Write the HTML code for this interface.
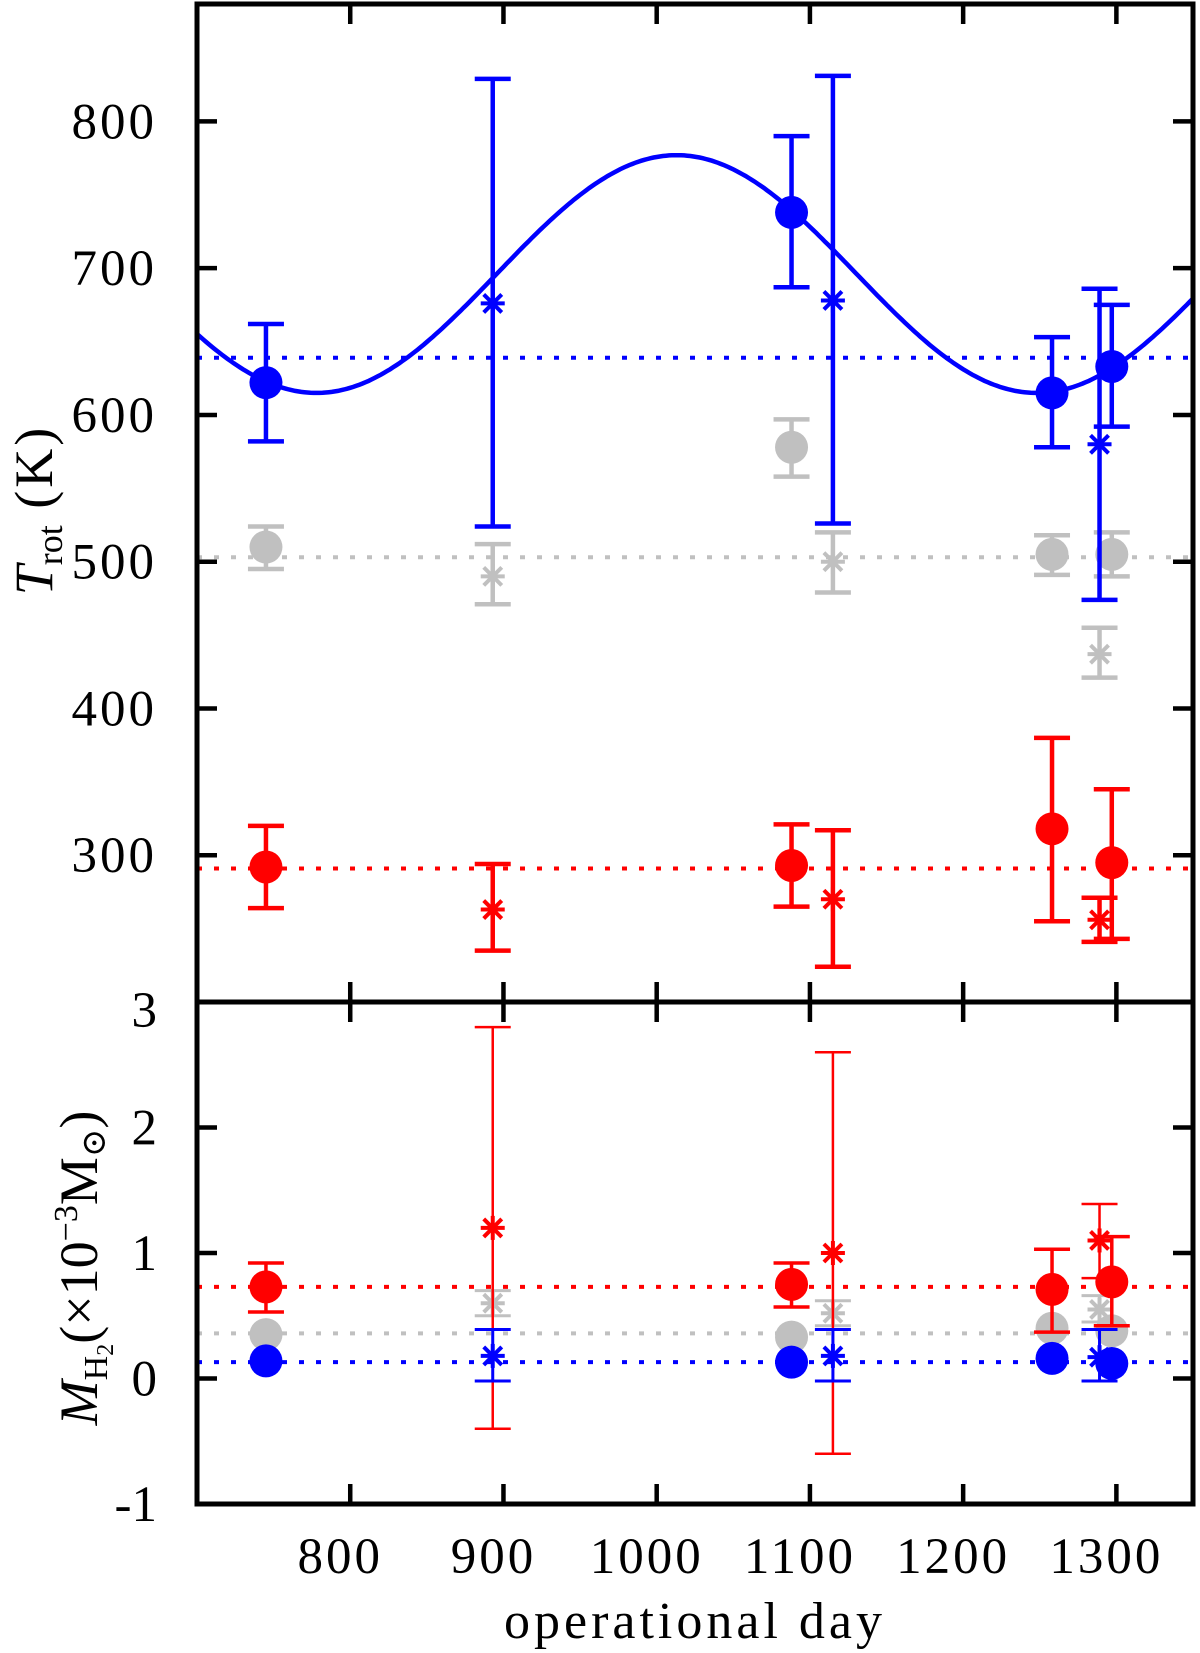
<!DOCTYPE html>
<html><head><meta charset="utf-8"><style>
html,body{margin:0;padding:0;background:#fff}
svg{display:block}
text{font-family:"Liberation Serif","DejaVu Serif",serif;fill:#000}
</style></head><body>
<svg id="chart" width="1200" height="1653" viewBox="0 0 1200 1653" xmlns="http://www.w3.org/2000/svg">
<g id="marks"></g>
<g id="axes"></g>
</svg>
<script>
// ---- data ----
const days = [745, 893, 1088, 1115, 1258, 1289, 1297];
const circleDays = [745, 1088, 1258, 1297];
const starDays = [893, 1115, 1289];
const tBlueCirc = [622, 738, 615, 633];
const tBlueCircLo = [582, 687, 578, 592];
const tBlueCircHi = [662, 790, 653, 675];
const tBlueStar = [676, 678, 580];
const tBlueStarLo = [524, 526, 474];
const tBlueStarHi = [829, 831, 686];
const tGrayCirc = [510, 578, 505, 505];
const tGrayCircLo = [495, 558, 491, 490];
const tGrayCircHi = [524, 597, 518, 520];
const tGrayStar = [490, 500, 437];
const tGrayStarLo = [471, 479, 421];
const tGrayStarHi = [512, 520, 455];
const tRedCirc = [292, 293, 318, 295];
const tRedCircLo = [264, 265, 255, 243];
const tRedCircHi = [320, 321, 380, 345];
const tRedStar = [263, 270, 256];
const tRedStarLo = [235, 224, 241];
const tRedStarHi = [294, 317, 271];
const tMeans = [639, 503, 291];
const fitParams = [696, 81, 470, 1013];
const mRedCirc = [0.73, 0.75, 0.71, 0.77];
const mRedCircLo = [0.53, 0.57, 0.37, 0.42];
const mRedCircHi = [0.92, 0.92, 1.03, 1.13];
const mRedStar = [1.2, 1.0, 1.1];
const mRedStarLo = [-0.4, -0.6, 0.8];
const mRedStarHi = [2.8, 2.6, 1.39];
const mGrayCirc = [0.35, 0.33, 0.40, 0.38];
const mGrayStar = [0.60, 0.52, 0.55];
const mGrayStarLo = [0.50, 0.42, 0.45];
const mGrayStarHi = [0.70, 0.62, 0.66];
const mBlueCirc = [0.14, 0.13, 0.16, 0.12];
const mBlueStar = [0.18, 0.18, 0.17];
const mBlueStarLo = [-0.02, -0.02, -0.02];
const mBlueStarHi = [0.39, 0.39, 0.39];
const mMeans = [0.73, 0.36, 0.13];
const xTicks = [800, 900, 1000, 1100, 1200, 1300];
const tTicks = [300, 400, 500, 600, 700, 800];
const mTicks = [-1, 0, 1, 2, 3];

// ---- scales ----
const L=197, R=1193, T=4, MID=1002, B=1504;
const X = d => L + (d-700)/(1350-700)*(R-L);
const YT = v => MID - (v-200)/(880-200)*(MID-T);
const YM = v => B - (v+1)/4*(B-MID);
const NS='http://www.w3.org/2000/svg';
const marks=document.getElementById('marks'), axes=document.getElementById('axes');
function mk(tag, attrs, parent){const e=document.createElementNS(NS,tag);for(const k in attrs)e.setAttribute(k,attrs[k]);parent.appendChild(e);return e;}
const BLUE='#0000ff', RED='#ff0000', GRAY='#c0c0c0';

function meanLine(y,c,name){
  const e=mk('line',{x1:L,x2:R,y1:y,y2:y,stroke:c,'stroke-width':4,'stroke-dasharray':'5 12'},marks);
  
  
}
function errbar(x,ylo,yhi,c,w,name){
  const g=mk('g',{},marks);
  
  
  mk('line',{x1:x,x2:x,y1:ylo,y2:yhi,stroke:c,'stroke-width':w},g);
  mk('line',{x1:x-18,x2:x+18,y1:ylo,y2:ylo,stroke:c,'stroke-width':w},g);
  mk('line',{x1:x-18,x2:x+18,y1:yhi,y2:yhi,stroke:c,'stroke-width':w},g);
}
function circ(x,y,c,name){
  const e=mk('circle',{cx:x,cy:y,r:16.5,fill:c},marks);
  
  
}
function star(x,y,c,name){
  const g=mk('g',{stroke:c,'stroke-width':4},marks);
  
  
  const s=12;
  mk('line',{x1:x-s,x2:x+s,y1:y,y2:y},g);
  mk('line',{x1:x,x2:x,y1:y-s,y2:y+s},g);
  mk('line',{x1:x-s*0.75,x2:x+s*0.75,y1:y-s*0.75,y2:y+s*0.75},g);
  mk('line',{x1:x-s*0.75,x2:x+s*0.75,y1:y+s*0.75,y2:y-s*0.75},g);
}

meanLine(YT(tMeans[1]),GRAY,'gray-mean-line-temp');
meanLine(YT(tMeans[0]),BLUE,'blue-mean-line-temp');
meanLine(YT(tMeans[2]),RED,'red-mean-line-temp');
function seriesT(vals,lo,hi,ds,c,isStar,name){
  ds.forEach((d,i)=>{
    if(lo) errbar(X(d),YT(lo[i]),YT(hi[i]),c,4.5,name+'-error-'+i);
    if(isStar) star(X(d),YT(vals[i]),c,name+'-'+i); else circ(X(d),YT(vals[i]),c,name+'-'+i);
  });
}
seriesT(tGrayCirc,tGrayCircLo,tGrayCircHi,circleDays,GRAY,false,'gray-circle-temp');
seriesT(tGrayStar,tGrayStarLo,tGrayStarHi,starDays,GRAY,true,'gray-star-temp');
seriesT(tRedCirc,tRedCircLo,tRedCircHi,circleDays,RED,false,'red-circle-temp');
seriesT(tRedStar,tRedStarLo,tRedStarHi,starDays,RED,true,'red-star-temp');
let p='';
for(let d=700; d<=1350; d+=2){
  const v=fitParams[0]+fitParams[1]*Math.cos(2*Math.PI*(d-fitParams[3])/fitParams[2]);
  p+=(p?'L':'M')+X(d).toFixed(1)+' '+YT(v).toFixed(1);
}
const fit=mk('path',{d:p,fill:'none',stroke:BLUE,'stroke-width':4.5},marks);


seriesT(tBlueStar,tBlueStarLo,tBlueStarHi,starDays,BLUE,true,'blue-star-temp');
seriesT(tBlueCirc,tBlueCircLo,tBlueCircHi,circleDays,BLUE,false,'blue-circle-temp');

meanLine(YM(mMeans[1]),GRAY,'gray-mean-line-mass');
meanLine(YM(mMeans[0]),RED,'red-mean-line-mass');
meanLine(YM(mMeans[2]),BLUE,'blue-mean-line-mass');
function seriesM(vals,lo,hi,ds,c,isStar,w,name){
  ds.forEach((d,i)=>{
    if(lo) errbar(X(d),YM(lo[i]),YM(hi[i]),c,w,name+'-error-'+i);
    if(isStar) star(X(d),YM(vals[i]),c,name+'-'+i); else circ(X(d),YM(vals[i]),c,name+'-'+i);
  });
}
seriesM(mGrayStar,mGrayStarLo,mGrayStarHi,starDays,GRAY,true,3,'gray-star-mass');
seriesM(mGrayCirc,null,null,circleDays,GRAY,false,3,'gray-circle-mass');
seriesM(mRedStar,mRedStarLo,mRedStarHi,starDays,RED,true,2.5,'red-star-mass');
seriesM(mRedCirc,mRedCircLo,mRedCircHi,circleDays,RED,false,3.5,'red-circle-mass');
seriesM(mBlueStar,mBlueStarLo,mBlueStarHi,starDays,BLUE,true,3,'blue-star-mass');
seriesM(mBlueCirc,null,null,circleDays,BLUE,false,3,'blue-circle-mass');

function frame(y1,y2,name){
  const e=mk('rect',{x:L,y:y1,width:R-L,height:y2-y1,fill:'none',stroke:'#000','stroke-width':5},axes);
  
  
}
frame(T,MID,'top-panel-frame');
frame(MID,B,'bottom-panel-frame');
const TL=20;
xTicks.forEach(d=>{
  const x=X(d);
  [[T,T+TL],[MID,MID-TL],[MID,MID+TL],[B,B-TL]].forEach(a=>mk('line',{x1:x,x2:x,y1:a[0],y2:a[1],stroke:'#000','stroke-width':4.5},axes));
  const t=mk('text',{x:x-10,y:1573,'font-size':51,'text-anchor':'middle','letter-spacing':3},axes);
  t.textContent=d;
  
  
});
tTicks.forEach(v=>{
  const y=YT(v);
  mk('line',{x1:L,x2:L+TL,y1:y,y2:y,stroke:'#000','stroke-width':4.5},axes);
  mk('line',{x1:R,x2:R-TL,y1:y,y2:y,stroke:'#000','stroke-width':4.5},axes);
  const t=mk('text',{x:157,y:y+17,'font-size':51,'text-anchor':'end','letter-spacing':3},axes);
  t.textContent=v;
  
  
});
mTicks.forEach(v=>{
  const y=YM(v);
  mk('line',{x1:L,x2:L+TL,y1:y,y2:y,stroke:'#000','stroke-width':4.5},axes);
  mk('line',{x1:R,x2:R-TL,y1:y,y2:y,stroke:'#000','stroke-width':4.5},axes);
  const t=mk('text',{x:157,y:y+(v===3?25:17),'font-size':51,'text-anchor':'end'},axes);
  t.textContent=v;
  
  
});
</script>
<div style="position:absolute;left:0;top:0;width:1200px;height:1653px;pointer-events:none">
<svg width="1200" height="1653" viewBox="0 0 1200 1653" xmlns="http://www.w3.org/2000/svg" style="position:absolute;left:0;top:0">
<text x="695" y="1638" font-size="52" text-anchor="middle" letter-spacing="4" font-family="Liberation Serif, serif">operational day</text>
<text transform="translate(52,510) rotate(-90)" font-size="54" text-anchor="middle" font-family="Liberation Serif, serif"><tspan font-style="italic">T</tspan><tspan font-size="36" dy="10">rot</tspan><tspan dy="-10" letter-spacing="3">  (K)</tspan></text>
<text transform="translate(97,1268) rotate(-90)" font-size="54" text-anchor="middle" font-family="Liberation Serif, DejaVu Serif, serif"><tspan font-style="italic">M</tspan><tspan font-size="34" dy="10">H</tspan><tspan font-size="24" dy="6">2</tspan><tspan dy="-16">(×10</tspan><tspan font-size="34" dy="-20">−3</tspan><tspan dy="20">M</tspan><tspan font-size="34" dy="8">⊙</tspan><tspan dy="-8">)</tspan></text>
</svg>
</div>
</body></html>
